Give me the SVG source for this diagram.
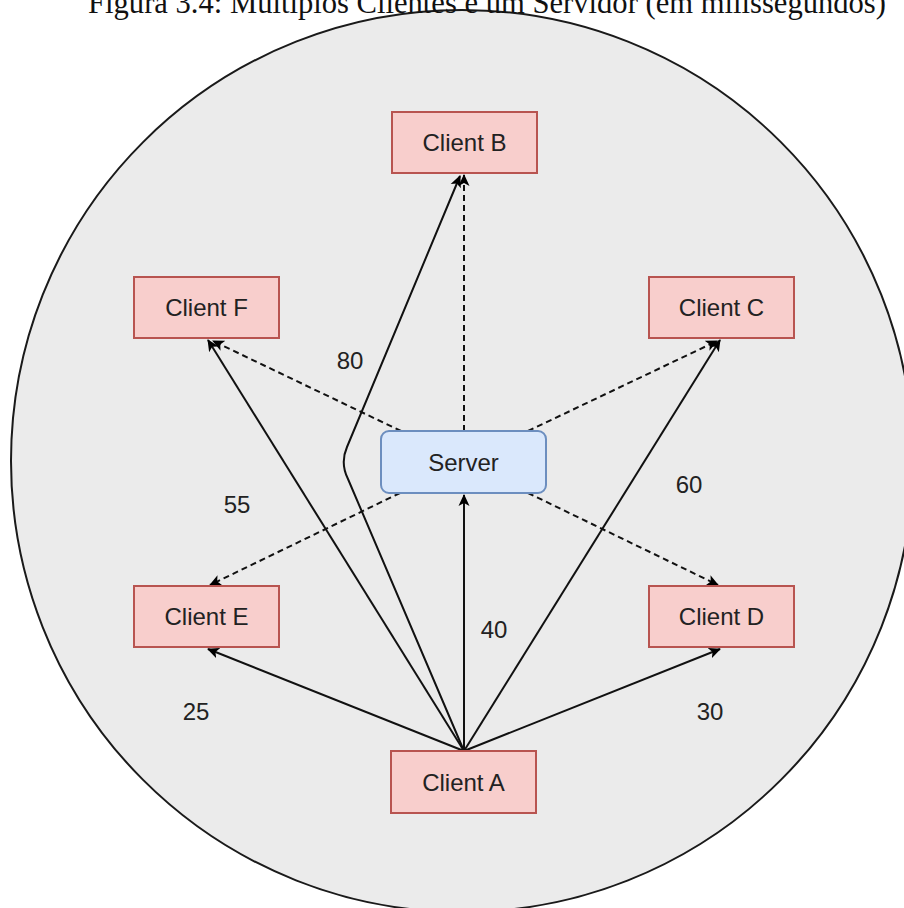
<svg xmlns="http://www.w3.org/2000/svg" width="904" height="908" viewBox="0 0 904 908">
  <style>
    .title { font-family: "Liberation Serif", "Times New Roman", serif; font-size: 30.6px; fill: #111; }
    .client rect { fill: #f8cecc; stroke: #b85450; stroke-width: 2; }
    .server rect { fill: #dae8fc; stroke: #6c8ebf; stroke-width: 2; }
    .lbl { font-family: "Liberation Sans", Arial, sans-serif; font-size: 24px; fill: #222; text-anchor: middle; }
    .solid { fill: none; stroke: #111; stroke-width: 2; marker-end: url(#arrow); }
    .dashed { fill: none; stroke: #111; stroke-width: 2; stroke-dasharray: 6 4; marker-end: url(#arrow); }
  </style>
  <defs>
    <marker id="arrow" markerUnits="userSpaceOnUse" viewBox="0 0 12 12" refX="11" refY="6" markerWidth="12" markerHeight="12" orient="auto">
      <path d="M0,0.5 L12,6 L0,11.5 L3,6 Z" fill="#000"/>
    </marker>
  </defs>

  <rect x="0" y="0" width="904" height="908" fill="#ffffff"/>

  <!-- network boundary -->
  <circle cx="462" cy="461" r="451" fill="#ebebeb" stroke="#1a1a1a" stroke-width="2"/>

  <!-- caption -->
  <text class="title" x="487" y="13" text-anchor="middle">Figura 3.4: Múltiplos Clientes e um Servidor (em milissegundos)</text>

  <g id="connectors">
    <!-- server to clients (dashed) -->
    <path class="dashed" d="M464,431 L464,175"/>
    <path class="dashed" d="M401,431 L213,341"/>
    <path class="dashed" d="M528,431 L717,341"/>
    <path class="dashed" d="M400,493 L210,585"/>
    <path class="dashed" d="M528,493 L718,585"/>
    <!-- client A to every node (solid) -->
    <path class="solid" d="M464,751 L348,479 Q340,463 347,447 L460,176"/>
    <path class="solid" d="M464,751 L208,340"/>
    <path class="solid" d="M464,751 L720,340"/>
    <path class="solid" d="M464,751 L464,495"/>
    <path class="solid" d="M464,751 L208,649"/>
    <path class="solid" d="M464,751 L720,649"/>
  </g>

  <g id="client-b" class="client">
    <rect x="392" y="112" width="145" height="61"/>
    <text class="lbl" x="464.5" y="151">Client B</text>
  </g>
  <g id="client-f" class="client">
    <rect x="134" y="277" width="145" height="61"/>
    <text class="lbl" x="206.5" y="316">Client F</text>
  </g>
  <g id="client-c" class="client">
    <rect x="649" y="277" width="145" height="61"/>
    <text class="lbl" x="721.5" y="316">Client C</text>
  </g>
  <g id="server" class="server">
    <rect x="381" y="431" width="165" height="62" rx="8" ry="8"/>
    <text class="lbl" x="463.5" y="470.5">Server</text>
  </g>
  <g id="client-e" class="client">
    <rect x="134" y="586" width="145" height="61"/>
    <text class="lbl" x="206.5" y="625">Client E</text>
  </g>
  <g id="client-d" class="client">
    <rect x="649" y="586" width="145" height="61"/>
    <text class="lbl" x="721.5" y="625">Client D</text>
  </g>
  <g id="client-a" class="client">
    <rect x="391" y="751" width="145" height="62"/>
    <text class="lbl" x="463.5" y="790.5">Client A</text>
  </g>

  <g id="edge-labels">
    <text class="lbl" x="350" y="368.5">80</text>
    <text class="lbl" x="237" y="512.5">55</text>
    <text class="lbl" x="689" y="492.5">60</text>
    <text class="lbl" x="494" y="637.5">40</text>
    <text class="lbl" x="196" y="719.5">25</text>
    <text class="lbl" x="710" y="719.5">30</text>
  </g>
</svg>
